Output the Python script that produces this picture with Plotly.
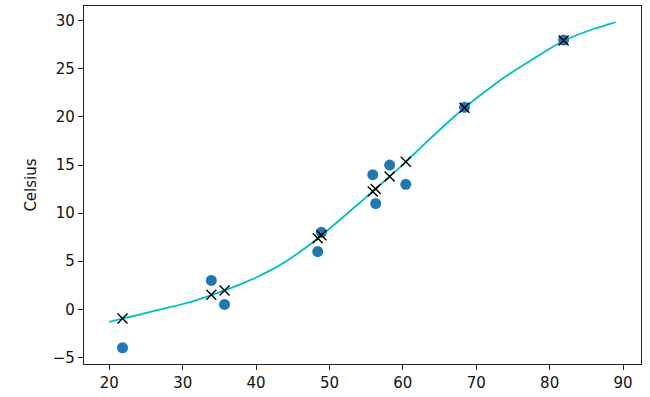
import plotly.graph_objects as go

# Measured data (unknown units vs Celsius)
t_u = [35.7, 55.9, 58.2, 81.9, 56.3, 48.9, 33.9, 21.8, 48.4, 60.4, 68.4]
t_c = [0.5, 14.0, 15.0, 28.0, 11.0, 8.0, 3.0, -4.0, 6.0, 13.0, 21.0]

t_p = [1.96, 12.26, 13.8, 27.95, 12.5, 7.69, 1.5, -0.96, 7.38, 15.35, 20.95]

# Model curve over the input range
curve_x = [20, 22, 24, 26, 28, 30, 32, 34, 36, 38, 40, 42, 44, 46, 48, 50, 52, 54,
           56, 58, 60, 62, 64, 66, 68, 70, 72, 74, 76, 78, 80, 82, 84, 86, 88, 89]
curve_y = [-1.3, -0.93, -0.57, -0.2, 0.17, 0.55, 0.98, 1.5, 2.05, 2.65, 3.3, 4.07,
           4.95, 5.98, 7.13, 8.38, 9.69, 11.0, 12.33, 13.68, 15.05, 16.5, 17.94, 19.35,
           20.7, 21.95, 23.1, 24.2, 25.2, 26.15, 27.1, 27.95, 28.6, 29.15, 29.62, 29.85]

x_ticks = [20, 30, 40, 50, 60, 70, 80, 90]
y_ticks = [-5, 0, 5, 10, 15, 20, 25, 30]

fig = go.Figure()
fig.add_trace(go.Scatter(x=curve_x, y=curve_y, mode="lines",
                         line=dict(color="#00bfbf", width=1.8, shape="spline", smoothing=0.8),
                         showlegend=False))
fig.add_trace(go.Scatter(x=t_u, y=t_c, mode="markers",
                         marker=dict(color="#1f77b4", size=11, symbol="circle"),
                         showlegend=False))
fig.add_trace(go.Scatter(x=t_u, y=t_p, mode="markers",
                         marker=dict(color="black", size=10, symbol="x-thin",
                                     line=dict(color="black", width=1.4)),
                         showlegend=False))

axis_common = dict(showgrid=False, zeroline=False, showline=True, linecolor="#222222",
                   linewidth=1.2, mirror=True, ticks="outside", ticklen=5,
                   tickcolor="#222222", tickwidth=1,
                   tickfont=dict(family="DejaVu Sans", size=15, color="#111111"))

fig.update_xaxes(range=[16.55, 92.45], tickvals=x_ticks, **axis_common)
fig.update_yaxes(range=[-5.69, 31.54], tickvals=y_ticks,
                 title=dict(text="Celsius", font=dict(family="DejaVu Sans", size=15, color="#111111"),
                            standoff=12),
                 **axis_common)

fig.update_layout(width=650, height=397, margin=dict(l=84, r=9, t=5, b=31),
                  plot_bgcolor="white", paper_bgcolor="white")

fig.write_html("out.html", config={"displayModeBar": False},
               post_script="document.body.style.margin='0';document.body.style.padding='0';")
